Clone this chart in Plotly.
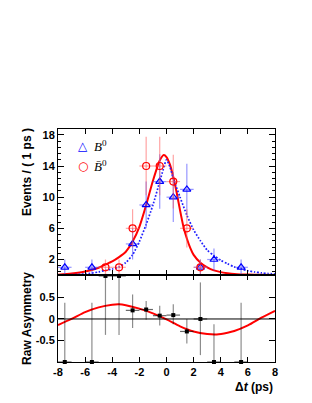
import plotly.graph_objects as go
from plotly.subplots import make_subplots

# ---- data ----
b0_t = [-7.5, -5.5, -2.5, -1.5, -0.5, 0.5, 1.5, 2.5, 3.5, 5.5]
b0_n = [1, 1, 4, 9, 12, 10, 11, 1, 2, 1]
b0_err = [1.0, 1.0, 2.0, 3.0, 3.5, 3.2, 3.3, 1.0, 1.4, 1.0]

b0bar_t = [-4.5, -3.5, -2.5, -1.5, -0.5, 0.5, 1.5, 2.5]
b0bar_n = [1, 1, 6, 14, 14, 12, 6, 1]
b0bar_err = [1.0, 1.0, 2.45, 3.74, 3.74, 3.46, 2.45, 1.0]

bin_halfwidth = [0.5] * 12

asym_t = [-7.5, -5.5, -4.5, -3.5, -2.5, -1.5, -0.5, 0.5, 1.5, 2.5, 3.5, 5.5]
asym_v = [-1, -1, 1, 1, 0.2, 0.22, 0.077, 0.09, -0.29, 0.0, -1, -1]
asym_err_up = [1.38, 1.38, 0.0, 0.0, 0.37, 0.2, 0.23, 0.25, 0.29, 0.85, 0.88, 1.38]
asym_err_dn = [0.0, 0.0, 1.37, 1.37, 0.41, 0.24, 0.23, 0.21, 0.28, 0.84, 0.0, 0.0]

red_t = [-8, -7, -6, -5, -4.5, -4, -3.5, -3, -2.5, -2, -1.5, -1, -0.5, -0.2, 0,
         0.25, 0.5, 0.75, 1, 1.25, 1.5, 1.75, 2, 2.5, 3, 3.5, 4, 4.5, 5, 6, 7, 8]
red_y = [0.05, 0.2, 0.45, 0.95, 1.35, 1.75, 2.3, 3.0, 4.3, 6.2, 9.0, 12.1, 14.7, 15.4, 15.15,
         14.2, 12.6, 10.6, 8.3, 6.2, 4.7, 3.5, 2.6, 1.6, 1.0, 0.6, 0.38, 0.25, 0.15, 0.06, 0.03, 0.01]

blue_t = [-8, -7, -6, -5, -4.5, -4, -3.5, -3, -2.5, -2, -1.5, -1, -0.5, -0.25, 0, 0.25,
          0.5, 1, 1.5, 2, 2.5, 3, 3.5, 4, 4.5, 5, 5.5, 6, 6.5, 7, 7.5, 8]
blue_y = [0.02, 0.05, 0.15, 0.4, 0.62, 0.78, 1.05, 1.6, 2.6, 4.3, 6.5, 9.0, 12.0, 13.5, 14.8, 13.9,
          12.4, 10.0, 7.7, 5.8, 4.4, 3.2, 2.5, 1.9, 1.45, 1.05, 0.8, 0.55, 0.4, 0.28, 0.2, 0.14]

acurve_t = [-8, -7, -6, -5, -4, -3.5, -3, -2, -1, 0, 1, 2, 3, 3.7, 4.5, 5, 6, 7, 8]
acurve_y = [-0.14, 0.0, 0.16, 0.27, 0.33, 0.34, 0.32, 0.24, 0.13, -0.01, -0.17, -0.29,
            -0.35, -0.36, -0.32, -0.28, -0.15, 0.03, 0.19]

x_ticks = [-8, -6, -4, -2, 0, 2, 4, 6, 8]
top_yticks = [2, 6, 10, 14, 18]
bot_yticks = [-0.5, 0, 0.5]

legend_labels = ["<i>B</i><sup>0</sup>", "<i>B̄</i><sup>0</sup>"]

# ---- figure ----
fig = make_subplots(rows=2, cols=1, shared_xaxes=True, vertical_spacing=0,
                    row_heights=[0.627, 0.373])

FONT = "Liberation Sans"
BLUE = "#0000ff"
RED = "#ff0000"

fig.add_trace(go.Scatter(x=red_t, y=red_y, mode="lines",
                         line=dict(color=RED, width=2, shape="spline", smoothing=0.6),
                         showlegend=False, hoverinfo="skip"), row=1, col=1)
fig.add_trace(go.Scatter(x=blue_t, y=blue_y, mode="lines",
                         line=dict(color="#2020ff", width=1.7, dash="1.7px,1.7px", shape="spline", smoothing=0.6),
                         showlegend=False, hoverinfo="skip"), row=1, col=1)

fig.add_trace(go.Scatter(
    x=b0_t, y=b0_n, mode="markers", showlegend=False,
    marker=dict(symbol="triangle-up-open", size=7, color=BLUE, line=dict(width=1.2)),
    error_y=dict(type="data", array=b0_err, color="rgba(80,80,255,0.6)", thickness=1.2, width=0),
    error_x=dict(type="data", array=bin_halfwidth[:len(b0_t)], color="rgba(80,80,255,0.6)", thickness=1.2, width=0),
), row=1, col=1)
fig.add_trace(go.Scatter(
    x=b0bar_t, y=b0bar_n, mode="markers", showlegend=False,
    marker=dict(symbol="circle-open", size=7, color=RED, line=dict(width=1.2)),
    error_y=dict(type="data", array=b0bar_err, color="rgba(255,90,90,0.55)", thickness=1.2, width=0),
    error_x=dict(type="data", array=bin_halfwidth[:len(b0bar_t)], color="rgba(255,90,90,0.55)", thickness=1.2, width=0),
), row=1, col=1)

fig.add_trace(go.Scatter(x=acurve_t, y=acurve_y, mode="lines",
                         line=dict(color=RED, width=2, shape="spline", smoothing=0.8),
                         showlegend=False, hoverinfo="skip"), row=2, col=1)
fig.add_trace(go.Scatter(
    x=asym_t, y=asym_v, mode="markers", showlegend=False, cliponaxis=False,
    marker=dict(symbol="square", size=4, color="black"),
    error_y=dict(type="data", symmetric=False, array=asym_err_up, arrayminus=asym_err_dn,
                 color="rgba(0,0,0,0.45)", thickness=1.2, width=0),
    error_x=dict(type="data", array=bin_halfwidth, color="rgba(0,0,0,0.6)", thickness=1.2, width=0),
), row=2, col=1)

axis_common = dict(showline=True, linecolor="black", linewidth=1, mirror="ticks",
                   ticks="inside", tickcolor="black", showgrid=False, zeroline=False,
                   tickfont=dict(family=FONT, size=11, color="black", weight="bold"))

fig.update_xaxes(range=[-8, 8], tickvals=x_ticks, ticklen=5, **axis_common)
fig.update_xaxes(showticklabels=False, row=1, col=1)
fig.update_xaxes(ticktext=[str(v) for v in x_ticks], row=2, col=1)

fig.update_yaxes(range=[0, 18.75], tickvals=top_yticks, ticklen=6,
                 minor=dict(dtick=0.8, tick0=2, ticklen=3, ticks="inside", tickcolor="black"),
                 row=1, col=1, **axis_common)
fig.update_yaxes(range=[-1, 1.02], tickvals=bot_yticks, ticktext=["-0.5", "0", "0.5"], ticklen=6,
                 row=2, col=1, **axis_common)

fig.add_hline(y=0, line=dict(color="black", width=1), row=2, col=1)

# page body adds an 8px offset; plot area lands at x 58..275, y 129..362 of the page
fig.update_layout(
    width=312, height=403,
    margin=dict(l=50, r=45, t=121, b=49),
    paper_bgcolor="white", plot_bgcolor="white",
    showlegend=False,
    annotations=[
        dict(text="Events / ( 1 ps )", xref="paper", yref="paper", x=-0.143, y=0.815,
             xanchor="center", yanchor="middle", textangle=-90, showarrow=False,
             font=dict(family=FONT, size=12, color="black", weight="bold")),
        dict(text="Raw Asymmetry", xref="paper", yref="paper", x=-0.143, y=0.189,
             xanchor="center", yanchor="middle", textangle=-90, showarrow=False,
             font=dict(family=FONT, size=12, color="black", weight="bold")),
        dict(text="Δ<i>t</i> (ps)", xref="paper", yref="paper", x=1.0, y=-0.107,
             xanchor="right", yanchor="middle", showarrow=False,
             font=dict(family=FONT, size=12, color="black", weight="bold")),
        # legend
        dict(text="△", xref="paper", yref="paper", x=0.115, y=0.925, xanchor="center", yanchor="middle",
             showarrow=False, font=dict(family="DejaVu Sans", size=12, color=BLUE)),
        dict(text=legend_labels[0], xref="paper", yref="paper", x=0.155, y=0.925, xanchor="left", yanchor="middle",
             showarrow=False, font=dict(family="Liberation Serif", size=13, color="black")),
        dict(text="○", xref="paper", yref="paper", x=0.115, y=0.843, xanchor="center", yanchor="middle",
             showarrow=False, font=dict(family="DejaVu Sans", size=12, color=RED)),
        dict(text=legend_labels[1], xref="paper", yref="paper", x=0.155, y=0.843, xanchor="left", yanchor="middle",
             showarrow=False, font=dict(family="Liberation Serif", size=13, color="black")),
    ],
)

fig.write_html("out.html")
